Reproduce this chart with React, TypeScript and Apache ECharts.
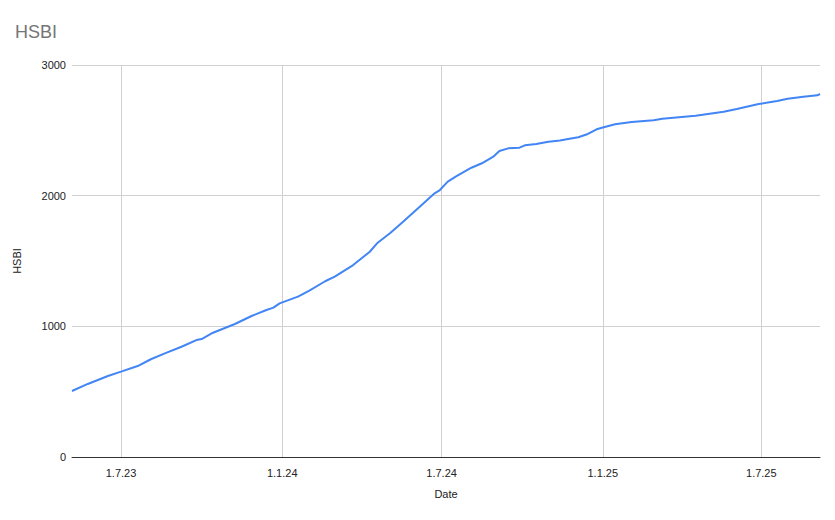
import React, { useEffect, useRef } from "react";
import * as echarts from "echarts";

const dates: string[] = [
  "2023-05-06", "2023-05-24", "2023-06-16", "2023-07-01", "2023-07-20", "2023-08-04",
  "2023-08-20", "2023-09-08", "2023-09-25", "2023-10-01", "2023-10-14", "2023-11-08",
  "2023-11-27", "2023-12-14", "2023-12-22", "2023-12-29", "2024-01-19", "2024-02-01",
  "2024-02-19", "2024-03-01", "2024-03-22", "2024-04-10", "2024-04-19", "2024-05-03",
  "2024-05-18", "2024-06-06", "2024-06-23", "2024-06-29", "2024-07-08", "2024-07-18",
  "2024-08-04", "2024-08-16", "2024-08-29", "2024-09-05", "2024-09-15", "2024-09-28",
  "2024-10-04", "2024-10-17", "2024-10-31", "2024-11-13", "2024-11-24", "2024-12-04",
  "2024-12-15", "2024-12-25", "2024-12-31", "2025-01-15", "2025-02-03", "2025-02-28",
  "2025-03-10", "2025-04-17", "2025-05-19", "2025-06-03", "2025-06-28", "2025-07-19",
  "2025-07-31", "2025-08-18", "2025-09-03", "2025-09-06",
];

const hsbi: number[] = [
  505, 559, 620, 653, 696, 748,
  793, 844, 895, 903, 951, 1018,
  1079, 1125, 1143, 1176, 1227, 1273,
  1345, 1380, 1469, 1571, 1640, 1712,
  1801, 1916, 2018, 2043, 2107, 2150,
  2214, 2248, 2298, 2342, 2362, 2367,
  2385, 2395, 2413, 2423, 2436, 2447,
  2472, 2508, 2520, 2546, 2564, 2577,
  2589, 2612, 2643, 2663, 2701, 2724,
  2742, 2757, 2768, 2778,
];

const tickDates: string[] = ["2023-07-01", "2024-01-01", "2024-07-01", "2025-01-01", "2025-07-01"];
const tickLabels: string[] = ["1.7.23", "1.1.24", "1.7.24", "1.1.25", "1.7.25"];

const xMin = "2023-05-06";
const xMax = "2025-09-06";

const ts = (s: string) => Date.UTC(+s.slice(0, 4), +s.slice(5, 7) - 1, +s.slice(8, 10));

export default function App() {
  const ref = useRef<HTMLDivElement>(null);
  useEffect(() => {
    if (!ref.current) return;
    const chart = echarts.init(ref.current, null, { renderer: "svg" });
    const tickTs = tickDates.map(ts);
    const font = "Arial, 'Liberation Sans', sans-serif";
    chart.setOption({
      animation: false,
      textStyle: { fontFamily: font },
      title: {
        text: "HSBI",
        left: 15,
        top: 23,
        padding: 0,
        textStyle: { fontFamily: font, fontSize: 18, fontWeight: "normal", color: "#757575" },
      },
      grid: { left: 72, right: 15, top: 65, bottom: 63, containLabel: false },
      xAxis: {
        type: "value",
        min: ts(xMin),
        max: ts(xMax),
        name: "Date",
        nameLocation: "middle",
        nameGap: 31,
        nameTextStyle: { fontFamily: font, fontSize: 11, color: "#222" },
        axisLine: { show: true, onZero: false, lineStyle: { color: "#333", width: 1 } },
        axisTick: { show: false, customValues: tickTs },
        axisLabel: {
          customValues: tickTs,
          margin: 10,
          fontFamily: font,
          fontSize: 11,
          color: "#222",
          showMinLabel: true,
          showMaxLabel: true,
          formatter: (v: number) => {
            const i = tickTs.indexOf(v);
            return i >= 0 ? tickLabels[i] : "";
          },
        },
        splitLine: { show: true, lineStyle: { color: "#d0d0d0", width: 1 } },
      },
      yAxis: {
        type: "value",
        min: 0,
        max: 3000,
        interval: 1000,
        name: "HSBI",
        nameLocation: "middle",
        nameGap: 50,
        nameRotate: 90,
        nameTextStyle: { fontFamily: font, fontSize: 11, color: "#222" },
        axisLine: { show: false },
        axisTick: { show: false },
        axisLabel: {
          margin: 6,
          fontFamily: font,
          fontSize: 11,
          color: "#222",
          formatter: (v: number) => String(v),
        },
        splitLine: { show: true, lineStyle: { color: "#d0d0d0", width: 1 } },
      },
      series: [
        {
          type: "line",
          data: dates.map((d, i) => [ts(d), hsbi[i]]),
          showSymbol: false,
          symbol: "none",
          lineStyle: { color: "#4285F4", width: 2 },
          itemStyle: { color: "#4285F4" },
        },
      ],
    });
    return () => chart.dispose();
  }, []);
  return <div ref={ref} style={{ width: 835, height: 520, margin: -8 }} />;
}
